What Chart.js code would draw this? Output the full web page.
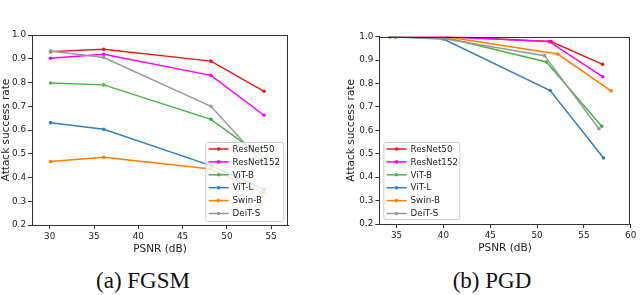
<!DOCTYPE html>
<html>
<head>
<meta charset="utf-8">
<script src="https://cdn.jsdelivr.net/npm/chart.js@4.4.0/dist/chart.umd.min.js"></script>
<style>
html, body { margin: 0; padding: 0; background: #fff; }
#wrap { position: relative; width: 640px; height: 295px; overflow: hidden; }
.box { position: absolute; top: 0; width: 320px; height: 260px; }
.cap { position: absolute; top: 269px; width: 200px; text-align: center; line-height: 1;
       font-family: "Liberation Serif", serif; font-size: 23px; color: #111; }
</style>
</head>
<body>
<div id="wrap">
  <div class="box" style="left:0"><canvas id="fgsm" width="320" height="260"></canvas></div>
  <div class="box" style="left:320px"><canvas id="pgd" width="320" height="260"></canvas></div>
  <div class="cap" style="left:43px">(a) FGSM</div>
  <div class="cap" style="left:392px">(b) PGD</div>
</div>
<script>
// models, in legend order
const models = ['ResNet50', 'ResNet152', 'ViT-B', 'ViT-L', 'Swin-B', 'DeiT-S'];
const colores = ['#e41a1c', '#ff00ff', '#4daf4a', '#377eb8', '#ff7f00', '#999999'];

// FGSM: same PSNR for every model
const fgsmPsnr = [30.1, 36.1, 48.2, 54.2];
const fgsmRates = [
    [0.930, 0.940, 0.890, 0.763],
    [0.902, 0.919, 0.830, 0.662],
    [0.798, 0.790, 0.645, 0.483],
    [0.631, 0.603, 0.450, 0.350],
    [0.467, 0.485, 0.436, 0.336],
    [0.933, 0.905, 0.700, 0.455]
];

// PGD: PSNR differs a bit per model
const pgdPsnr = [
    [34.3, 40.4, 51.5, 57.0],
    [34.3, 40.4, 51.3, 57.0],
    [34.3, 40.3, 51.0, 56.9],
    [34.3, 40.0, 51.4, 57.1],
    [34.9, 40.6, 52.2, 57.9],
    [34.3, 39.8, 50.8, 56.6]
];
const pgdRates = [
    [1.000, 1.000, 0.979, 0.882],
    [1.000, 1.000, 0.979, 0.829],
    [1.000, 0.995, 0.892, 0.618],
    [1.000, 0.990, 0.770, 0.482],
    [0.998, 0.998, 0.926, 0.769],
    [1.000, 0.993, 0.919, 0.607]
];

const fgsmXTicks = [30, 35, 40, 45, 50, 55];
const pgdXTicks = [35, 40, 45, 50, 55, 60];
const yTicks = [0.2, 0.3, 0.4, 0.5, 0.6, 0.7, 0.8, 0.9, 1.0];

const ejeColor = '#333';
const textoColor = '#222';

/*
* marco de los 4 lados + leyenda dentro del grafico
*/
const marcoYLeyenda = {
    id: 'marcoYLeyenda',
    afterDatasetsDraw(chart, args, opts) {
        const ctx = chart.ctx;
        const a = chart.chartArea;
        ctx.save();
        ctx.strokeStyle = ejeColor;
        ctx.lineWidth = 1;
        ctx.strokeRect(Math.round(a.left) + 0.5, Math.round(a.top) + 0.5,
                       Math.round(a.right - a.left) - 1, Math.round(a.bottom - a.top));

        const w = opts.w, h = opts.h;
        const x0 = opts.lado === 'izq' ? a.left + 4 : a.right - 4.7 - w;
        const y0 = a.bottom - opts.abajo - h;
        ctx.fillStyle = 'rgba(255,255,255,0.8)';
        ctx.strokeStyle = '#cccccc';
        ctx.beginPath();
        ctx.roundRect(x0 + 0.5, y0 + 0.5, w, h, 2);
        ctx.fill();
        ctx.stroke();

        ctx.font = '8.7px "DejaVu Sans"';
        ctx.textBaseline = 'middle';
        chart.data.datasets.forEach(function (ds, i) {
            const yy = y0 + 7 + i * 12.9;
            ctx.strokeStyle = ds.borderColor;
            ctx.lineWidth = 1.5;
            ctx.beginPath();
            ctx.moveTo(x0 + 3.3, yy);
            ctx.lineTo(x0 + 23.3, yy);
            ctx.stroke();
            ctx.fillStyle = ds.borderColor;
            ctx.beginPath();
            ctx.arc(x0 + 13.3, yy, 1.8, 0, Math.PI * 2);
            ctx.fill();
            ctx.fillStyle = textoColor;
            ctx.fillText(ds.label, x0 + 27.3, yy + 0.5);
        });
        ctx.restore();
    }
};

function crearGrafico(id, psnrDe, rates, xMin, xMax, xTicks, pad, ejeY, leyenda) {
    const datasets = models.map(function (m, i) {
        const xs = psnrDe(i);
        return {
            label: m,
            data: xs.map(function (x, j) { return { x: x, y: rates[i][j] }; }),
            showLine: true,
            borderColor: colores[i],
            backgroundColor: colores[i],
            borderWidth: 1.5,
            pointRadius: 1.8,
            pointBorderWidth: 0,
            pointBackgroundColor: colores[i],
            order: models.length - 1 - i
        };
    });
    const ctx = document.getElementById(id).getContext('2d');
    return new Chart(ctx, {
        type: 'scatter',
        data: { datasets: datasets },
        plugins: [marcoYLeyenda],
        options: {
            responsive: false,
            animation: false,
            devicePixelRatio: 1,
            layout: { padding: pad },
            plugins: {
                legend: { display: false },
                tooltip: { enabled: false },
                marcoYLeyenda: leyenda
            },
            scales: {
                x: {
                    type: 'linear',
                    min: xMin,
                    max: xMax,
                    afterBuildTicks: function (s) { s.ticks = xTicks.map(function (v) { return { value: v }; }); },
                    afterFit: function (s) { s.height = 35; },
                    grid: { display: true, drawOnChartArea: false, drawTicks: true, tickLength: 4, color: ejeColor },
                    border: { display: true, color: ejeColor },
                    ticks: {
                        color: textoColor, padding: 2, maxRotation: 0,
                        font: { family: 'DejaVu Sans', size: 8.8 },
                        callback: function (v) { return String(v); }
                    },
                    title: {
                        display: true, text: 'PSNR (dB)', color: textoColor,
                        font: { family: 'DejaVu Sans', size: 10.5 },
                        padding: { top: 0, bottom: 4 }
                    }
                },
                y: {
                    min: 0.2,
                    max: 1.0,
                    afterBuildTicks: function (s) { s.ticks = yTicks.map(function (v) { return { value: v }; }); },
                    afterFit: function (s) { s.width = ejeY; },
                    grid: { display: true, drawOnChartArea: false, drawTicks: true, tickLength: 4, color: ejeColor },
                    border: { display: true, color: ejeColor },
                    ticks: {
                        color: textoColor, padding: 2,
                        font: { family: 'DejaVu Sans', size: 8.8 },
                        callback: function (v) { return Number(v).toFixed(1); }
                    },
                    title: {
                        display: true, text: 'Attack success rate', color: textoColor,
                        font: { family: 'DejaVu Sans', size: 10.5 },
                        padding: { top: 0, bottom: 0 }
                    }
                }
            }
        }
    });
}

crearGrafico('fgsm', function () { return fgsmPsnr; }, fgsmRates, 28, 56.9, fgsmXTicks,
    { top: 35, right: 32, left: 0, bottom: 0 }, 32,
    { lado: 'der', w: 78, h: 79, abajo: 4 });

crearGrafico('pgd', function (i) { return pgdPsnr[i]; }, pgdRates, 33.15, 60, pgdXTicks,
    { top: 36.7, right: 9.3, left: 25, bottom: 1 }, 34.3,
    { lado: 'izq', w: 76, h: 77, abajo: 5 });
</script>
</body>
</html>
